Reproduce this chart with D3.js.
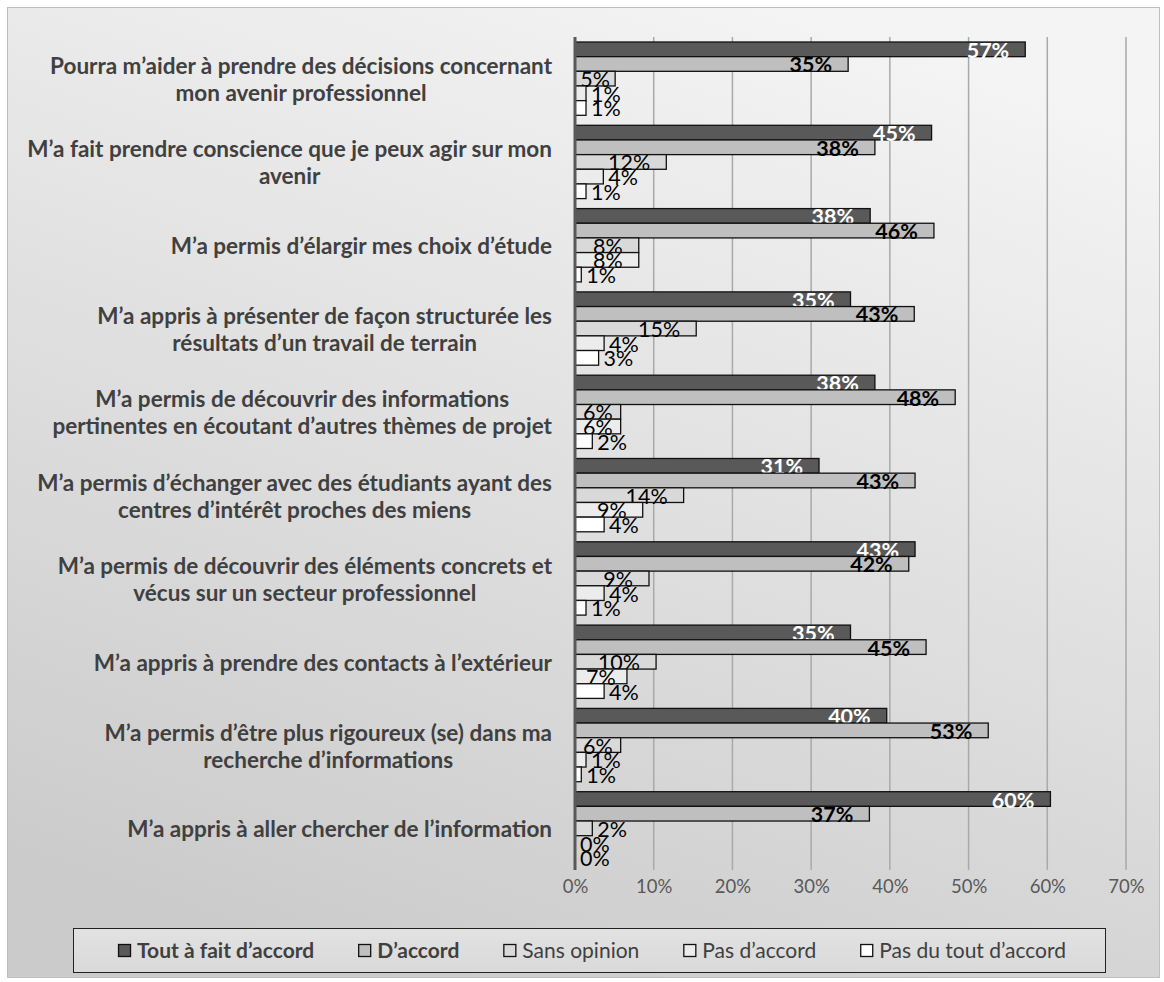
<!DOCTYPE html>
<html>
<head>
<meta charset="utf-8">
<script src="https://cdnjs.cloudflare.com/ajax/libs/d3/7.8.5/d3.min.js"></script>
<style>
  body { margin: 0; background: #fff; }
  svg { display: block; font-family: Lato, "Open Sans", sans-serif; }
</style>
</head>
<body>
<script>
// categories (one entry per line of the label)
var categories = [
  ["Pourra m\u2019aider à prendre des décisions concernant", "mon avenir professionnel"],
  ["M\u2019a fait prendre conscience que je peux agir sur mon", "avenir"],
  ["M\u2019a permis d\u2019élargir mes choix d\u2019étude"],
  ["M\u2019a appris à présenter de façon structurée les", "résultats d\u2019un travail de terrain"],
  ["M\u2019a permis de découvrir des informations", "pertinentes en écoutant d\u2019autres thèmes de projet"],
  ["M\u2019a permis d\u2019échanger avec des étudiants ayant des", "centres d\u2019intérêt proches des miens"],
  ["M\u2019a permis de découvrir des éléments concrets et", "vécus sur un secteur professionnel"],
  ["M\u2019a appris à prendre des contacts à l\u2019extérieur"],
  ["M\u2019a permis d\u2019être plus rigoureux (se) dans ma", "recherche d\u2019informations"],
  ["M\u2019a appris à aller chercher de l\u2019information"]
];

var seriesNames = ["Tout à fait d\u2019accord", "D\u2019accord", "Sans opinion", "Pas d\u2019accord", "Pas du tout d\u2019accord"];

// values in %
var toutAFait   = [57.2, 45.3, 37.5, 35.0, 38.1, 31.0, 43.2, 35.0, 39.6, 60.4];
var dAccord     = [34.7, 38.1, 45.6, 43.1, 48.3, 43.2, 42.4, 44.6, 52.5, 37.4];
var sansOpinion = [5.1, 11.6, 8.1, 15.4, 5.8, 13.8, 9.4, 10.3, 5.8, 2.2];
var pasDAccord  = [1.4, 3.6, 8.1, 3.7, 5.8, 8.6, 3.7, 6.6, 1.4, 0];
var pasDuTout   = [1.4, 1.4, 0.8, 3.0, 2.2, 3.7, 1.4, 3.7, 0.8, 0];

var ticks = [0, 10, 20, 30, 40, 50, 60, 70];

var series = [toutAFait, dAccord, sansOpinion, pasDAccord, pasDuTout];
var fills = ["#595959", "#bfbfbf", "#d9d9d9", "#ececec", "#ffffff"];
var labelColors = ["#ffffff", "#000000", "#000000", "#000000", "#000000"];
var labelWeights = ["bold", "bold", "normal", "normal", "normal"];
var legendWeights = ["bold", "bold", "normal", "normal", "normal"];

var W = 1164, H = 982;
var plot = {left: 575, right: 1126, top: 37, bottom: 870};

var svg = d3.select("body").append("svg")
    .attr("width", W)
    .attr("height", H);

// background gradient
var defs = svg.append("defs");
var grad = defs.append("linearGradient")
    .attr("id", "bg")
    .attr("x1", 0.7).attr("y1", 0).attr("x2", 0.3).attr("y2", 1);
grad.append("stop").attr("offset", "0%").attr("stop-color", "#f4f4f4");
grad.append("stop").attr("offset", "100%").attr("stop-color", "#cbcbcb");

var lgrad = defs.append("linearGradient")
    .attr("id", "lg")
    .attr("x1", 0).attr("y1", 0).attr("x2", 0).attr("y2", 1);
lgrad.append("stop").attr("offset", "0%").attr("stop-color", "#e2e2e2");
lgrad.append("stop").attr("offset", "100%").attr("stop-color", "#d9d9d9");

svg.append("rect")
    .attr("x", 7.5).attr("y", 7.5)
    .attr("width", 1152).attr("height", 970)
    .attr("fill", "url(#bg)")
    .attr("stroke", "#bfbfbf")
    .attr("stroke-width", 1);

// scales
var x = d3.scaleLinear().domain([0, 70]).range([plot.left, plot.right]);
var y0 = d3.scaleBand()
    .domain(d3.range(categories.length))
    .range([plot.top, plot.bottom])
    .paddingInner(0.12)
    .paddingOuter(0.06);
var y1 = d3.scaleBand()
    .domain(d3.range(series.length))
    .range([0, y0.bandwidth()]);

// gridlines
svg.append("g")
    .selectAll("line")
    .data(ticks.slice(1))
    .enter()
    .append("line")
      .attr("x1", function(d) { return x(d); })
      .attr("x2", function(d) { return x(d); })
      .attr("y1", plot.top)
      .attr("y2", plot.bottom)
      .attr("stroke", "#a9a9a9")
      .attr("stroke-width", 1.5);

// x axis labels
var xAxis = svg.append("g")
    .attr("transform", "translate(0," + (plot.bottom + 2) + ")")
    .call(d3.axisBottom(x).tickValues(ticks).tickSize(0).tickPadding(8)
        .tickFormat(function(d) { return d + "%"; }));
xAxis.select(".domain").remove();
xAxis.selectAll("text")
    .style("font-family", "Lato, sans-serif")
    .style("font-size", "18.5px")
    .attr("fill", "#595959");

// bars
var groups = svg.append("g")
    .selectAll("g")
    .data(categories)
    .enter()
    .append("g")
      .attr("transform", function(d, i) { return "translate(0," + y0(i) + ")"; });

groups.each(function(cat, i) {
    var g = d3.select(this);
    series.forEach(function(s, k) {
        var v = s[i];
        var by = y1(k);
        var bh = y1.bandwidth();
        if (v > 0) {
            g.append("rect")
                .attr("x", x(0))
                .attr("y", by)
                .attr("width", x(v) - x(0))
                .attr("height", bh)
                .attr("fill", fills[k])
                .attr("stroke", "#111")
                .attr("stroke-width", 1.3);
        }
        var t = g.append("text")
            .attr("y", by + bh / 2 + 8.5)
            .style("font-size", "21.5px")
            .style("font-weight", labelWeights[k])
            .attr("fill", labelColors[k])
            .text(Math.round(v) + "%");
        var tw = t.node().getComputedTextLength();
        var bw = x(v) - x(0);
        if (bw >= tw + 34) {
            t.attr("x", x(v) - 16).attr("text-anchor", "end");
        } else if (bw >= tw + 8) {
            t.attr("x", x(0) + bw / 2).attr("text-anchor", "middle");
        } else {
            t.attr("x", x(v) + 5).attr("text-anchor", "start");
        }
    });
});

// vertical axis line
svg.append("line")
    .attr("x1", plot.left).attr("x2", plot.left)
    .attr("y1", plot.top).attr("y2", plot.bottom)
    .attr("stroke", "#595959")
    .attr("stroke-width", 3);

// category labels: centered block, right edge at 552
var lineH = 27;
categories.forEach(function(lines, i) {
    var cy = y0(i) + y0.bandwidth() / 2;
    var g = svg.append("g");
    var texts = lines.map(function(l, j) {
        return g.append("text")
            .attr("y", cy + (j - (lines.length - 1) / 2) * lineH + 9)
            .attr("text-anchor", "middle")
            .style("font-size", "22.5px")
            .style("font-weight", "bold")
            .attr("fill", "#404040")
            .text(l);
    });
    var maxW = d3.max(texts, function(t) { return t.node().getComputedTextLength(); });
    texts.forEach(function(t) { t.attr("x", 552 - maxW / 2); });
});

// legend
var legend = svg.append("g");
legend.append("rect")
    .attr("x", 73.5).attr("y", 928.5)
    .attr("width", 1032).attr("height", 44)
    .attr("fill", "url(#lg)")
    .attr("stroke", "#222")
    .attr("stroke-width", 1);

var items = legend.selectAll("g.item")
    .data(seriesNames)
    .enter()
    .append("g")
      .attr("class", "item");
items.append("rect")
    .attr("width", 12).attr("height", 12)
    .attr("y", 944.5)
    .attr("fill", function(d, i) { return fills[i]; })
    .attr("stroke", "#111")
    .attr("stroke-width", 1.3);
items.append("text")
    .attr("y", 958)
    .style("font-size", "21px")
    .style("font-weight", function(d, i) { return legendWeights[i]; })
    .attr("fill", "#404040")
    .text(function(d) { return d; });

var cx = 0, pos = [];
items.each(function(d, i) {
    var tw = d3.select(this).select("text").node().getComputedTextLength();
    pos.push(cx);
    cx += 19 + tw + 44;
});
var total = cx - 44;
var start = 592 - total / 2;
items.each(function(d, i) {
    var g = d3.select(this);
    g.select("rect").attr("x", start + pos[i] + 0.5);
    g.select("text").attr("x", start + pos[i] + 19);
});
</script>
</body>
</html>
